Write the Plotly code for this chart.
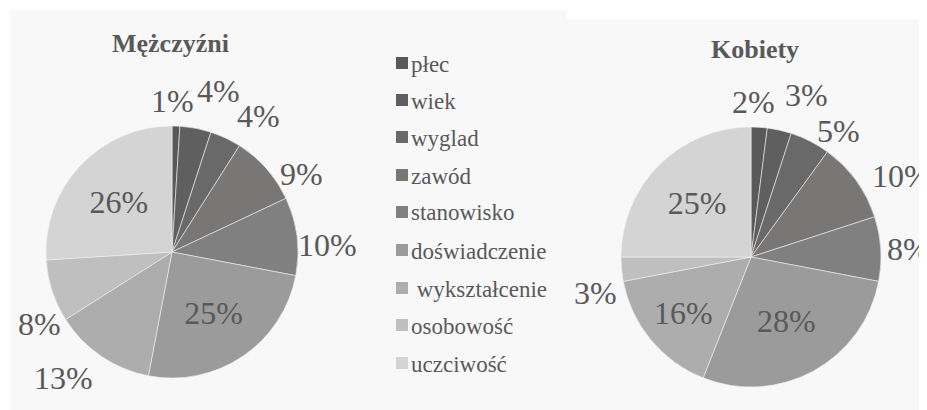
import plotly.graph_objects as go

# the page body keeps its default 8px margin, so the figure starts at (8, 8)
OFF = 8
W, H = 927 - OFF, 410 - OFF

categories = ['płec', 'wiek', 'wyglad', 'zawód', 'stanowisko', 'doświadczenie',
              'wykształcenie', 'osobowość', 'uczciwość']
men = [1, 4, 4, 9, 10, 25, 13, 8, 26]
women = [2, 3, 5, 10, 8, 28, 16, 3, 25]

colors = ['#595959', '#5f5f5f', '#696969', '#787775', '#808080',
          '#9b9b9b', '#adadad', '#bfbfbf', '#d4d4d4']

# which slices carry their label inside; the rest are placed around the pie
men_inside = [False, False, False, False, False, True, False, False, True]
women_inside = [False, False, False, False, False, True, True, False, True]
# outside label spots (page pixels) for the slices labelled outside
men_out_xy = {0: (172, 101), 1: (218, 91), 2: (258, 116), 3: (301, 174),
              4: (327, 245), 6: (63, 378), 7: (39, 324)}
women_out_xy = {0: (753, 102), 1: (806, 95), 2: (838, 131), 3: (870, 176, 'left'),
                4: (885, 249, 'left'), 7: (595, 293)}

FONT = 'Liberation Serif'
TXT = '#595959'
LBL = 32


def px_x(v):
    return (v - OFF) / W


def px_y(v):
    return 1 - (v - OFF) / H


def pie(values, inside, x0, x1, y0, y1):
    return go.Pie(
        labels=categories, values=values, sort=False, direction='clockwise',
        rotation=0, marker=dict(colors=colors, line=dict(color='#f0f0f0', width=0.6)),
        texttemplate='%{percent:.0%}',
        textposition=['inside' if f else 'none' for f in inside],
        textfont=dict(family=FONT, size=LBL, color=TXT),
        insidetextorientation='horizontal',
        domain=dict(x=[px_x(x0), px_x(x1)], y=[px_y(y1), px_y(y0)]),
        showlegend=False, hoverinfo='label+percent',
    )


fig = go.Figure()
fig.add_trace(pie(men, men_inside, 46, 298, 126, 378))
fig.add_trace(pie(women, women_inside, 621, 881, 127, 387))

shapes = [
    dict(type='rect', xref='paper', yref='paper', x0=px_x(10), x1=px_x(567),
         y0=0, y1=px_y(10), fillcolor='#f8f8f8', line=dict(width=0), layer='below'),
    dict(type='rect', xref='paper', yref='paper', x0=px_x(567), x1=1,
         y0=0, y1=px_y(19), fillcolor='#f8f8f8', line=dict(width=0), layer='below'),
]
annotations = [
    dict(text='<b>Mężczyźni</b>', x=px_x(170), y=px_y(43), xref='paper', yref='paper',
         xanchor='center', yanchor='middle', showarrow=False,
         font=dict(family=FONT, size=26, color=TXT)),
    dict(text='<b>Kobiety</b>', x=px_x(755), y=px_y(50), xref='paper', yref='paper',
         xanchor='center', yanchor='middle', showarrow=False,
         font=dict(family=FONT, size=26, color=TXT)),
]

# percentage labels that sit outside the pies
for values, spots in ((men, men_out_xy), (women, women_out_xy)):
    total = sum(values)
    for i, spot in spots.items():
        anchor = spot[2] if len(spot) > 2 else 'center'
        annotations.append(dict(
            text='%d%%' % round(100 * values[i] / total),
            x=px_x(spot[0]), y=px_y(spot[1]), xref='paper', yref='paper',
            xanchor=anchor, yanchor='middle', showarrow=False,
            font=dict(family=FONT, size=LBL, color=TXT)))

# legend drawn by hand so the row spacing matches
legend_y = [63, 100, 137, 175, 212, 250, 288, 325, 363]
for name, col, ly in zip(categories, colors, legend_y):
    shapes.append(dict(type='rect', xref='paper', yref='paper',
                       x0=px_x(396), x1=px_x(408), y0=px_y(ly + 6), y1=px_y(ly - 6),
                       fillcolor=col, line=dict(width=0)))
    label = '\u00a0' + name if name == 'wykształcenie' else name
    annotations.append(dict(text=label, x=px_x(409), y=px_y(ly + 1), xref='paper',
                            yref='paper', xanchor='left', yanchor='middle',
                            showarrow=False,
                            font=dict(family=FONT, size=23, color=TXT)))

fig.update_layout(
    width=W, height=H, margin=dict(l=0, r=0, t=0, b=0),
    paper_bgcolor='white', plot_bgcolor='white',
    shapes=shapes, annotations=annotations,
)

fig.write_html('out.html')
